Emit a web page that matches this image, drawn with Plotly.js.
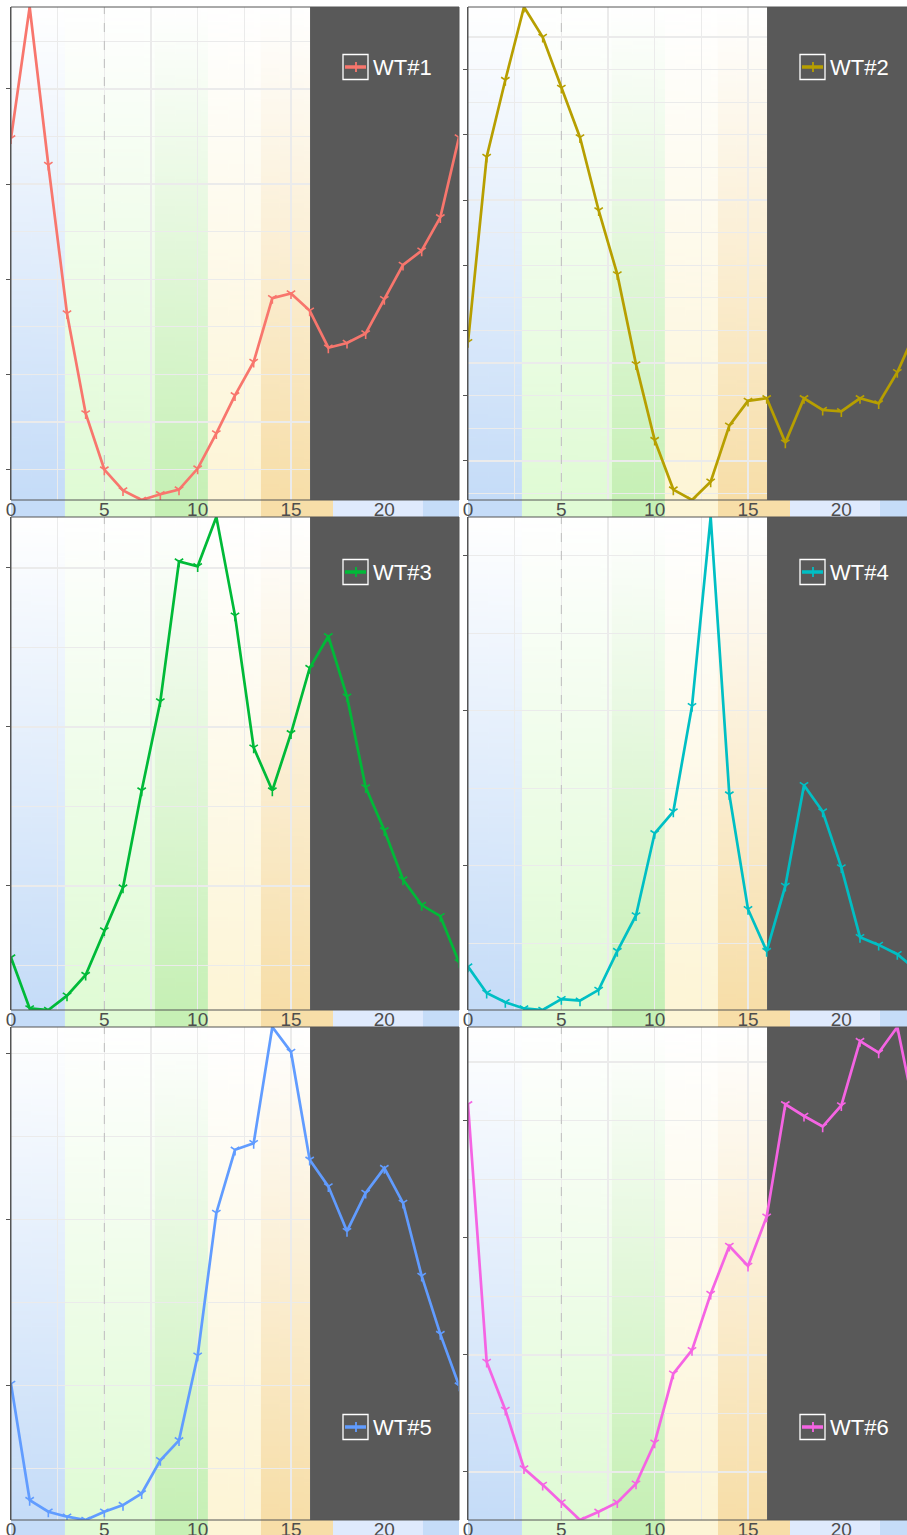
<!DOCTYPE html>
<html>
<head>
<meta charset="utf-8">
<script src="https://cdn.plot.ly/plotly-3.0.1.min.js"></script>
<style>
html, body { margin: 0; padding: 0; background: #ffffff; }
#chart { width: 907px; height: 1535px; }
</style>
</head>
<body>
<div id="chart"></div>
<script>
// Sampling times (h)
const hours = [0,1,2,3,4,5,6,7,8,9,10,11,12,13,14,15,16,17,18,19,20,21,22,23,24];

// Relative expression per sample
const wt1 = [4.48,5.86,4.20,2.64,1.59,1.00,0.78,0.68,0.74,0.79,1.01,1.38,1.78,2.13,2.80,2.85,2.67,2.28,2.33,2.43,2.79,3.15,3.30,3.65,4.49];
const wt2 = [1.91,3.33,3.92,4.48,4.25,3.86,3.48,2.92,2.43,1.74,1.16,0.78,0.70,0.84,1.27,1.46,1.48,1.14,1.48,1.39,1.38,1.48,1.44,1.68,2.00];
const wt3 = [0.55,0.23,0.22,0.31,0.44,0.72,0.99,1.60,2.16,3.04,3.01,3.32,2.70,1.87,1.60,1.96,2.37,2.57,2.19,1.62,1.35,1.04,0.88,0.81,0.52];
const wt4 = [0.35,0.18,0.12,0.08,0.07,0.14,0.13,0.20,0.45,0.68,1.21,1.35,2.03,3.25,1.46,0.72,0.45,0.87,1.52,1.35,0.99,0.54,0.49,0.43,0.33];
const wt5 = [1.01,0.31,0.24,0.21,0.19,0.24,0.28,0.35,0.55,0.67,1.18,2.04,2.42,2.46,3.16,3.01,2.36,2.20,1.93,2.16,2.31,2.10,1.66,1.31,1.00];
const wt6 = [4.14,1.94,1.53,1.03,0.89,0.74,0.59,0.66,0.74,0.90,1.25,1.84,2.04,2.52,2.93,2.76,3.18,4.14,4.04,3.95,4.13,4.68,4.58,4.80,4.02];

const sampleNames = ['WT#1','WT#2','WT#3','WT#4','WT#5','WT#6'];
const lineColors = ['#F8766D','#B79F00','#00BA38','#00BFC4','#619CFF','#F564E3'];
const yTickSteps = [1, 0.5, 1, 1, 1, 1];

// Light phases shaded inside each panel (h), then darkness
const phaseEdges = [0, 2.89, 7.71, 10.55, 13.39, 16.02];
const phaseColors = ['#c5dcf8', '#e0fbd5', '#c6f0b5', '#fdf5d6', '#f7dea8'];
const nightStart = 16.02;
const nightEnd = 24;
// Phase strip under each panel
const stripEdges = [0, 2.89, 7.71, 10.55, 13.39, 17.25, 22.07, 24];
const stripColors = ['#c5dcf8', '#e0fbd5', '#c6f0b5', '#fdf5d6', '#f7dea8', '#dfeafd', '#c5dcf8'];

const xTickVals = [0, 5, 10, 15, 20];
const xTickText = ['0', '5', '10', '15', '20'];
const markHour = 5;

const series = [wt1, wt2, wt3, wt4, wt5, wt6];

// ---- page geometry (px) ----
const W = 907, H = 1535;
const rowTops = [7, 517, 1027];
const plotH = 493;
const stripH = 17;
const colLefts = [11, 468];
const pxPerHour = 448 / 24;
const legendOffsets = [60, 55, 400];   // key centre below panel top
const labelLift = 4;                   // hour labels sit inside the strip

const px2x = p => p / W;
const px2y = p => 1 - p / H;

// vertical white-to-colour gradient as an image
function gradientImage(color) {
  const c = document.createElement('canvas');
  c.width = 4; c.height = 256;
  const g = c.getContext('2d');
  const grad = g.createLinearGradient(0, 0, 0, 256);
  grad.addColorStop(0, '#ffffff');
  grad.addColorStop(1, color);
  g.fillStyle = grad;
  g.fillRect(0, 0, 4, 256);
  return c.toDataURL('image/png');
}
const gradSources = phaseColors.map(gradientImage);

const traces = [];
const shapes = [];
const annotations = [];
const images = [];
const layout = {
  width: W, height: H,
  margin: {l: 0, r: 0, t: 0, b: 0},
  paper_bgcolor: '#ffffff',
  plot_bgcolor: 'rgba(0,0,0,0)',
  showlegend: false,
  font: {family: 'Liberation Sans, Arial, sans-serif', color: '#4d4d4d'}
};

series.forEach((vals, i) => {
  const row = Math.floor(i / 2), col = i % 2;
  const n = i + 1;
  const sfx = n === 1 ? '' : String(n);
  const xa = 'x' + sfx, ya = 'y' + sfx;

  const left = colLefts[col];
  const right = col === 0 ? left + 448 : W;
  const top = rowTops[row], bottom = top + plotH;
  const xMax = (right - left) / pxPerHour;
  const yMin = Math.min(...vals), yMax = Math.max(...vals);
  const step = yTickSteps[i];

  layout['xaxis' + sfx] = {
    domain: [px2x(left), px2x(right)],
    range: [0, xMax],
    anchor: 'free', position: px2y(bottom - labelLift),
    tickmode: 'array', tickvals: xTickVals, ticktext: xTickText,
    ticks: '',
    tickfont: {size: 19, color: '#4d4d4d', family: 'Liberation Sans, Arial, sans-serif'},
    showgrid: true, gridcolor: '#ebebeb', gridwidth: 1.3,
    minor: {dtick: 2.5, tick0: 0, showgrid: true, gridcolor: '#ebebeb', gridwidth: 1.3},
    zeroline: false, showline: false,
    fixedrange: true
  };
  layout['yaxis' + sfx] = {
    domain: [px2y(bottom), px2y(top)],
    range: [yMin, yMax],
    anchor: xa,
    tick0: 0, dtick: step,
    ticks: 'outside', ticklen: 4, tickcolor: '#555555', tickwidth: 1,
    showticklabels: false,
    showgrid: true, gridcolor: '#ebebeb', gridwidth: 1.3,
    minor: {dtick: step / 2, tick0: 0, showgrid: true, gridcolor: '#ebebeb', gridwidth: 1.3},
    zeroline: false,
    showline: true, linecolor: '#555555', linewidth: 1, mirror: false,
    fixedrange: true
  };

  // shaded light phases
  for (let k = 0; k < phaseColors.length; k++) {
    images.push({
      source: gradSources[k], xref: xa, yref: ya,
      x: phaseEdges[k], y: yMax,
      sizex: phaseEdges[k + 1] - phaseEdges[k], sizey: yMax - yMin,
      xanchor: 'left', yanchor: 'top', sizing: 'stretch', layer: 'below'
    });
  }
  // phase strip under the panel
  for (let k = 0; k < stripColors.length; k++) {
    shapes.push({type: 'rect', xref: xa, yref: 'paper',
      x0: stripEdges[k], x1: Math.min(stripEdges[k + 1], xMax),
      y0: px2y(bottom + stripH), y1: px2y(bottom),
      fillcolor: stripColors[k], line: {width: 0}, layer: 'below'});
  }
  // darkness, drawn over the grid
  traces.push({
    type: 'scatter', mode: 'lines', xaxis: xa, yaxis: ya,
    x: [nightStart, nightEnd, nightEnd, nightStart, nightStart],
    y: [yMin, yMin, yMax, yMax, yMin],
    fill: 'toself', fillcolor: '#595959', line: {width: 0},
    hoverinfo: 'skip', showlegend: false
  });
  // reference hour
  traces.push({
    type: 'scatter', mode: 'lines', xaxis: xa, yaxis: ya,
    x: [markHour, markHour], y: [yMin, yMax],
    line: {color: '#bdbdbd', width: 1, dash: 'dash'},
    hoverinfo: 'skip', showlegend: false
  });
  // expression profile
  traces.push({
    type: 'scatter', mode: 'lines+markers',
    x: hours, y: vals, xaxis: xa, yaxis: ya,
    name: sampleNames[i],
    line: {color: lineColors[i], width: 2.7},
    marker: {symbol: 'y-down-open', size: 7, color: lineColors[i], line: {color: lineColors[i], width: 1.6}},
    cliponaxis: true,
    hoverinfo: 'x+y+name'
  });

  // panel frame
  shapes.push({type: 'rect', xref: 'paper', yref: 'paper',
    x0: px2x(left), x1: px2x(col === 0 ? right : W + 2), y0: px2y(bottom), y1: px2y(top),
    line: {color: '#555555', width: 1}, fillcolor: 'rgba(0,0,0,0)', layer: 'above'});

  // key box with the sample name
  const bx = left + 332, cy = top + legendOffsets[row];
  shapes.push({type: 'rect', xref: 'paper', yref: 'paper',
    x0: px2x(bx), x1: px2x(bx + 25), y0: px2y(cy + 12.5), y1: px2y(cy - 12.5),
    line: {color: '#ffffff', width: 1.3}, fillcolor: 'rgba(0,0,0,0)', layer: 'above'});
  shapes.push({type: 'line', xref: 'paper', yref: 'paper',
    x0: px2x(bx + 2), x1: px2x(bx + 23), y0: px2y(cy), y1: px2y(cy),
    line: {color: lineColors[i], width: 3.5}, layer: 'above'});
  shapes.push({type: 'line', xref: 'paper', yref: 'paper',
    x0: px2x(bx + 13), x1: px2x(bx + 13), y0: px2y(cy + 5), y1: px2y(cy - 5),
    line: {color: lineColors[i], width: 1.8}, layer: 'above'});
  annotations.push({xref: 'paper', yref: 'paper', x: px2x(bx + 28), y: px2y(cy),
    xanchor: 'left', yanchor: 'middle', showarrow: false, text: sampleNames[i],
    font: {size: 22, color: '#ffffff', family: 'Liberation Sans, Arial, sans-serif'}});
});

layout.shapes = shapes;
layout.annotations = annotations;
layout.images = images;

Plotly.newPlot('chart', traces, layout, {staticPlot: true, displayModeBar: false});
</script>
</body>
</html>
